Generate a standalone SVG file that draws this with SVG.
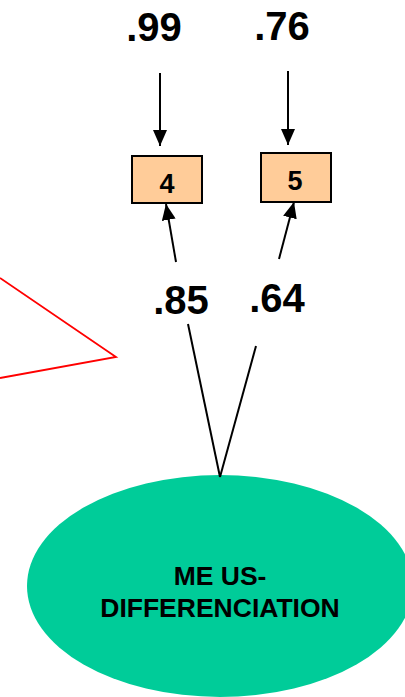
<svg xmlns="http://www.w3.org/2000/svg" width="405" height="697" viewBox="0 0 405 697">
<defs>
<marker id="ah" viewBox="0 0 16 14" refX="16" refY="7" markerWidth="16" markerHeight="14" markerUnits="userSpaceOnUse" orient="auto">
<path d="M0,0 L16,7 L0,14 Z" fill="#000"/>
</marker>
<style>
.num{font-family:"Liberation Sans",Arial,sans-serif;font-weight:bold;font-size:40px;fill:#000;text-anchor:middle}
.box{fill:#FFCC99;stroke:#000;stroke-width:2}
.blab{font-family:"Liberation Sans",Arial,sans-serif;font-weight:bold;font-size:27px;fill:#000;text-anchor:middle}
.lab{font-family:"Liberation Sans",Arial,sans-serif;font-weight:bold;font-size:26.5px;fill:#000;text-anchor:middle}
.ln{stroke:#000;stroke-width:2;fill:none}
</style>
</defs>
<rect width="405" height="697" fill="#fff"/>
<g id="callout">
<polyline points="0,278 116,357 0,378" fill="none" stroke="#FF0000" stroke-width="1.8"/>
</g>
<g id="node-me-us">
<ellipse cx="220" cy="586" rx="193" ry="111" fill="#00CC99"/>
<text class="lab" x="220" y="585">ME US-</text>
<text class="lab" x="220" y="617">DIFFERENCIATION</text>
</g>
<g id="node-4">
<rect class="box" x="132" y="156" width="70" height="47"/>
<text class="blab" x="167" y="193">4</text>
</g>
<g id="node-5">
<rect class="box" x="261" y="153" width="70" height="49"/>
<text class="blab" x="295" y="190">5</text>
</g>
<g id="labels">
<text class="num" x="154" y="41">.99</text>
<text class="num" x="282" y="40">.76</text>
<text class="num" x="181" y="314">.85</text>
<text class="num" x="277" y="312">.64</text>
</g>
<g id="connectors">
<line class="ln" x1="160" y1="73" x2="160" y2="146" marker-end="url(#ah)"/>
<line class="ln" x1="288" y1="71" x2="288" y2="145" marker-end="url(#ah)"/>
<line class="ln" x1="176" y1="262" x2="166" y2="204" marker-end="url(#ah)"/>
<line class="ln" x1="279" y1="259" x2="294" y2="202" marker-end="url(#ah)"/>
<line class="ln" x1="188" y1="324" x2="220" y2="477"/>
<line class="ln" x1="256" y1="346" x2="220" y2="477"/>
</g>
</svg>
